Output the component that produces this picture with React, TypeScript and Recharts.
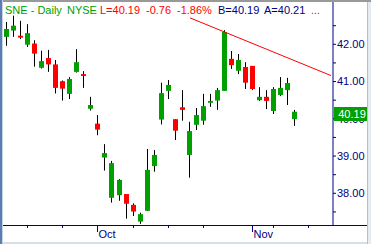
import { ComposedChart, Bar, XAxis, YAxis, ReferenceLine } from 'recharts';

const opens = [42.20, 42.37, 42.23, 41.99, 42.02, 41.37, 41.63, 41.46, 41.01, 40.67, 41.26, 41.20, 40.27, 39.87, 38.96, 37.88, 37.95, 37.98, 37.69, 37.24, 37.53, 38.73, 39.98, 40.75, 39.99, 40.31, 39.03, 39.84, 39.95, 40.43, 40.49, 40.75, 41.61, 41.29, 41.39, 41.42, 40.50, 40.59, 40.21, 40.64, 40.77, 39.99];
const highs = [42.60, 42.77, 42.63, 42.54, 42.11, 41.83, 41.85, 41.58, 41.03, 41.12, 41.87, 41.28, 40.59, 40.10, 39.32, 38.87, 38.38, 37.98, 37.73, 37.48, 39.19, 39.16, 40.97, 41.04, 39.99, 40.77, 39.92, 40.29, 40.67, 40.67, 40.83, 42.38, 41.82, 41.74, 41.52, 41.42, 40.85, 40.77, 40.85, 41.12, 41.10, 40.24];
const lows = [41.96, 42.20, 42.14, 41.93, 41.40, 41.35, 41.26, 40.68, 40.49, 40.53, 41.24, 40.83, 40.22, 39.56, 38.61, 37.75, 37.80, 37.32, 37.39, 37.18, 37.53, 38.58, 39.85, 40.53, 39.43, 39.95, 38.42, 39.70, 39.84, 40.32, 40.24, 40.75, 41.34, 41.20, 40.80, 40.77, 40.48, 40.26, 40.13, 40.61, 40.37, 39.81];
const closes = [42.41, 42.50, 42.18, 42.30, 41.75, 41.55, 41.46, 40.83, 40.81, 41.07, 41.52, 41.15, 40.37, 39.71, 39.08, 38.81, 38.36, 37.72, 37.51, 37.44, 38.63, 39.03, 40.69, 40.91, 39.68, 40.24, 39.67, 40.10, 40.34, 40.48, 40.77, 42.33, 41.44, 41.58, 40.97, 40.80, 40.59, 40.48, 40.80, 40.83, 40.96, 40.19];

// day index of the weekly ticks, months get a label
const weekTicks = [3, 8, 13, 18, 23, 28, 35, 38, 43];
const monthLabels: Record<number, string> = { 13: 'Oct', 35: 'Nov' };
const priceTicks = [37.5, 38, 38.5, 39, 39.5, 40, 40.5, 41, 41.5, 42, 42.5];

const trendX = [26.18, 46.27];
const trendY = [42.71, 41.16];

const NAVY = '#000080';
const GREEN = '#00a000';
const RED = '#ff0000';
const FONT = '"Liberation Sans", Arial, sans-serif';

const data = opens.map((o, i) => ({
  i,
  open: o,
  high: highs[i],
  low: lows[i],
  close: closes[i],
  range: [lows[i], highs[i]],
}));

const Candle = (props: any) => {
  const { x, y, width, height, payload } = props;
  const top = Math.min(y, y + height);
  const h = Math.abs(height);
  const span = payload.high - payload.low || 1;
  const ppu = h / span;
  const up = payload.close >= payload.open;
  const bodyTop = top + (payload.high - Math.max(payload.open, payload.close)) * ppu;
  const bodyH = Math.max(1, Math.abs(payload.open - payload.close) * ppu);
  const cx = Math.round(x + width / 2) + 0.5;
  return (
    <g>
      <line x1={cx} x2={cx} y1={top} y2={top + h} stroke="#000" strokeWidth={1} />
      <rect x={cx - 2.5} y={bodyTop} width={5} height={bodyH} fill={up ? GREEN : RED} />
    </g>
  );
};

const WeekTick = (props: any) => {
  const { x, y, payload } = props;
  const label = monthLabels[payload.value];
  const px = Math.round(x) + 0.5;
  return (
    <g>
      <line x1={px} x2={px} y1={y} y2={y + (label ? 7 : 3)} stroke={NAVY} />
      {label && (
        <text x={px + 1} y={y + 13} fill={NAVY} fontSize={11} fontFamily={FONT}>
          {label}
        </text>
      )}
    </g>
  );
};

const header = [
  { x: 5, text: 'SNE - Daily', color: GREEN },
  { x: 67, text: 'NYSE', color: GREEN },
  { x: 100, text: 'L=40.19', color: RED },
  { x: 146, text: '-0.76', color: RED },
  { x: 177, text: '-1.86%', color: RED },
  { x: 218, text: 'B=40.19', color: NAVY },
  { x: 264, text: 'A=40.21', color: NAVY },
  { x: 311, text: '...', color: RED },
];

const box = (style: any) => <div style={{ position: 'absolute', ...style }} />;

export default function App() {
  return (
    <div style={{ position: 'fixed', left: 0, top: 0, width: 371, height: 244, background: '#fff', overflow: 'hidden' }}>
      <ComposedChart width={371} height={244} data={data} margin={{ top: 2, right: 0, bottom: 0, left: 3 }}>
        <XAxis
          dataKey="i"
          type="number"
          domain={[-0.456, 46.55]}
          allowDataOverflow
          ticks={weekTicks}
          interval={0}
          height={19}
          axisLine={false}
          tickLine={false}
          tickSize={0}
          tickMargin={0}
          tick={<WeekTick />}
        />
        <YAxis
          orientation="right"
          width={38}
          domain={[37.149, 43.136]}
          allowDataOverflow
          ticks={priceTicks}
          interval={0}
          axisLine={{ stroke: NAVY }}
          tickLine={{ stroke: NAVY }}
          tickSize={3}
          tickMargin={1}
          tick={{ fill: NAVY, fontSize: 11, fontFamily: FONT }}
          tickFormatter={(v: number) => (v % 1 === 0 ? v.toFixed(2) : '')}
        />
        <Bar dataKey="range" barSize={5} shape={<Candle />} isAnimationActive={false} />
        <ReferenceLine
          segment={[{ x: trendX[0], y: trendY[0] }, { x: trendX[1], y: trendY[1] }]}
          stroke={RED}
          strokeWidth={1}
          ifOverflow="visible"
        />
      </ComposedChart>

      <svg width={371} height={20} style={{ position: 'absolute', left: 0, top: 0 }}>
        {header.map((h) => (
          <text key={h.x} x={h.x} y={14} fill={h.color} fontSize={11} fontFamily={FONT}>
            {h.text}
          </text>
        ))}
      </svg>

      {box({ left: 3, top: 225, width: 365, height: 1, background: NAVY })}
      <div
        style={{
          position: 'absolute', left: 334, top: 107, width: 36, height: 14, background: GREEN,
          color: '#fff', fontSize: 11, fontFamily: FONT, lineHeight: '14px', textAlign: 'center',
        }}
      >
        40.19
      </div>

      {box({ left: 0, top: 0, width: 371, height: 2, background: '#999' })}
      {box({ left: 0, top: 0, width: 2, height: 244, background: '#5a7db5' })}
      {box({ left: 2, top: 0, width: 1, height: 244, background: '#c9d2df' })}
      {box({ left: 367, top: 2, width: 1, height: 242, background: '#b3bfd2' })}
      {box({ left: 368, top: 2, width: 3, height: 242, background: '#e6eaf1' })}
      {box({ left: 3, top: 242, width: 364, height: 2, background: '#d7dee9' })}
    </div>
  );
}
